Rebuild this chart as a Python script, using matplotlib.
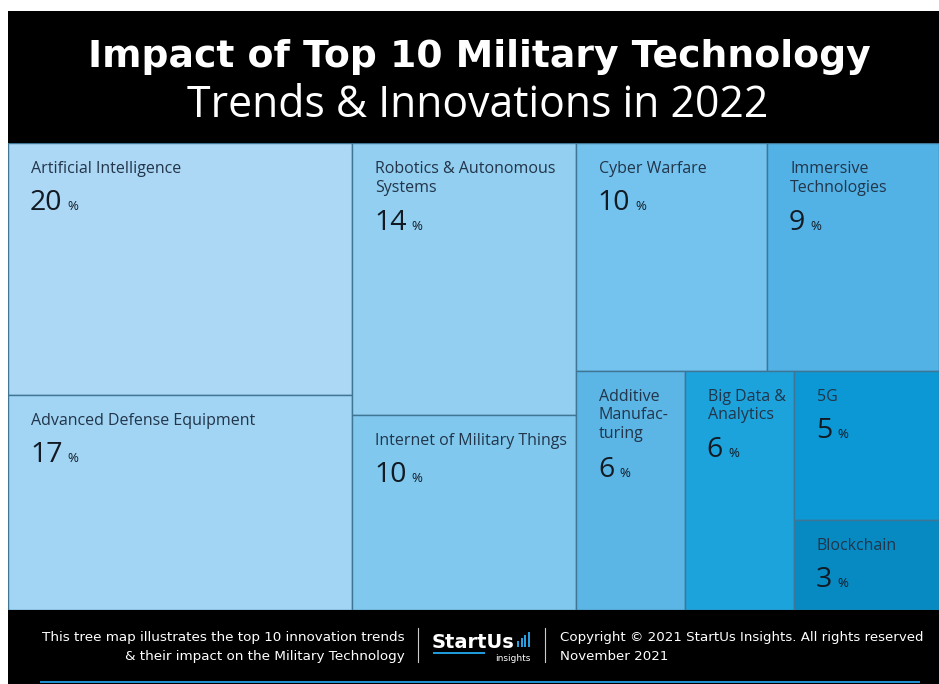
import matplotlib
matplotlib.use("Agg")
import matplotlib.pyplot as plt
from matplotlib.patches import Rectangle

# ---------------- data ----------------
categories = ["Artificial Intelligence", "Advanced Defense Equipment",
              "Robotics & Autonomous\nSystems", "Internet of Military Things",
              "Cyber Warfare", "Immersive\nTechnologies",
              "Additive\nManufac-\nturing", "Big Data &\nAnalytics",
              "5G", "Blockchain"]
values = [20, 17, 14, 10, 10, 9, 6, 6, 5, 3]
colors = ["#ADD8F5", "#A2D4F3", "#93CFF0", "#80C8EE", "#73C3EE",
          "#52B2E5", "#5BB5E5", "#1DA3DC", "#0B98D4", "#078AC2"]
# nesting of the slice-and-dice layout (indices into the lists above)
layout = [[0, 1], [2, 3], [[4, 5], [6, 7, [8, 9]]]]

title = "Impact of Top 10 Military Technology"
subtitle = "Trends & Innovations in 2022"
footer_left = ["This tree map illustrates the top 10 innovation trends",
               "& their impact on the Military Technology"]
footer_right = ["Copyright \u00a9 2021 StartUs Insights. All rights reserved",
                "November 2021"]

W, H = 939, 684
fig = plt.figure(figsize=(W / 100, H / 100), dpi=100)
fig.patch.set_facecolor("white")

def fx(px):
    return px / W

def fy(py):
    return 1 - py / H

# black frame (header + footer background)
fig.patches.append(Rectangle((fx(8), 0), 1 - fx(8), fy(11), transform=fig.transFigure,
                             facecolor="black", edgecolor="none", zorder=-10))
# bottom blue line
fig.patches.append(Rectangle((fx(40), fy(683)), fx(880), 2 / H, transform=fig.transFigure,
                             facecolor="#1f8fd0", edgecolor="none", zorder=-5))

FONT = "Open Sans"
WIDE = "DejaVu Sans"
fig.text(0.5 + fx(10), fy(67), title, ha="center", va="baseline", color="white",
         fontsize=27.2, fontweight="bold", family=WIDE)
fig.text(0.5 + fx(8), fy(117), subtitle, ha="center", va="baseline", color="white",
         fontsize=30.8, fontweight="normal", family=FONT)

# ---------------- treemap ----------------
ax = fig.add_axes([fx(8), fy(610), fx(931), 467 / H])
ax.set_zorder(5)
ax.set_xlim(0, 1)
ax.set_ylim(1, 0)
ax.axis("off")

def total(node):
    if isinstance(node, int):
        return values[node]
    return sum(total(n) for n in node)

rects = {}

def place(node, x, y, w, h, depth):
    if isinstance(node, int):
        rects[node] = (x, y, w, h)
        return
    s = total(node)
    horizontal = depth % 2 == 0
    pos = 0.0
    for child in node:
        f = total(child) / s
        if horizontal:
            place(child, x + pos * w, y, f * w, h, depth + 1)
        else:
            place(child, x, y + pos * h, w, f * h, depth + 1)
        pos += f

place(layout, 0, 0, 1, 1, 0)

PT = 0.72  # points per pixel at dpi 100
for i, (x, y, w, h) in rects.items():
    ax.add_patch(Rectangle((x, y), w, h, facecolor=colors[i], edgecolor="#3f7595",
                           linewidth=1.0))
    nlines = categories[i].count("\n") + 1
    ax.annotate(categories[i], xy=(x, y), xytext=(23 * PT, -18 * PT),
                textcoords="offset points", ha="left", va="top",
                fontsize=11.5, color="#22354a", family=FONT, linespacing=1.22)
    yoff = -(17 + nlines * 19.5 + 30.5) * PT
    num = ax.annotate(f"{values[i]}", xy=(x, y), xytext=(22 * PT, yoff),
                      textcoords="offset points", ha="left", va="baseline",
                      fontsize=20.5, color="#121a24", family=FONT)
    ax.annotate("%", xy=(1, y), xycoords=(num, "data"), xytext=(3.5, yoff),
                textcoords="offset points", ha="left", va="baseline",
                fontsize=9.5, color="#121a24", family=FONT)

# ---------------- footer ----------------
for k, line in enumerate(footer_left):
    fig.text(fx(405), fy(641 + 19 * k), line, ha="right", va="baseline",
             color="white", fontsize=9.7, family=WIDE)
for k, line in enumerate(footer_right):
    fig.text(fx(560), fy(641 + 19 * k), line, ha="left", va="baseline",
             color="white", fontsize=9.6, family=WIDE)
for xp in (418, 545):
    fig.add_artist(plt.Line2D([fx(xp), fx(xp)], [fy(628), fy(662)],
                              transform=fig.transFigure, color="#cccccc", lw=0.8))
fig.text(fx(432), fy(648), "StartUs", ha="left", va="baseline", color="white",
         fontsize=14, fontweight="bold", family=WIDE)
fig.patches.append(Rectangle((fx(433), fy(654)), fx(52), 2 / H, transform=fig.transFigure,
                             facecolor="#1f9ad8", edgecolor="none"))
for k, hb in enumerate([6, 9, 12, 15]):
    fig.patches.append(Rectangle((fx(517 + 3.5 * k), fy(647)), fx(2.3), hb / H,
                                 transform=fig.transFigure, facecolor="#2a9fe0",
                                 edgecolor="none"))
fig.text(fx(530), fy(661), "insights", ha="right", va="baseline", color="white",
         fontsize=6.5, family=WIDE)

fig.savefig("out.png", dpi=100, facecolor=fig.get_facecolor())
